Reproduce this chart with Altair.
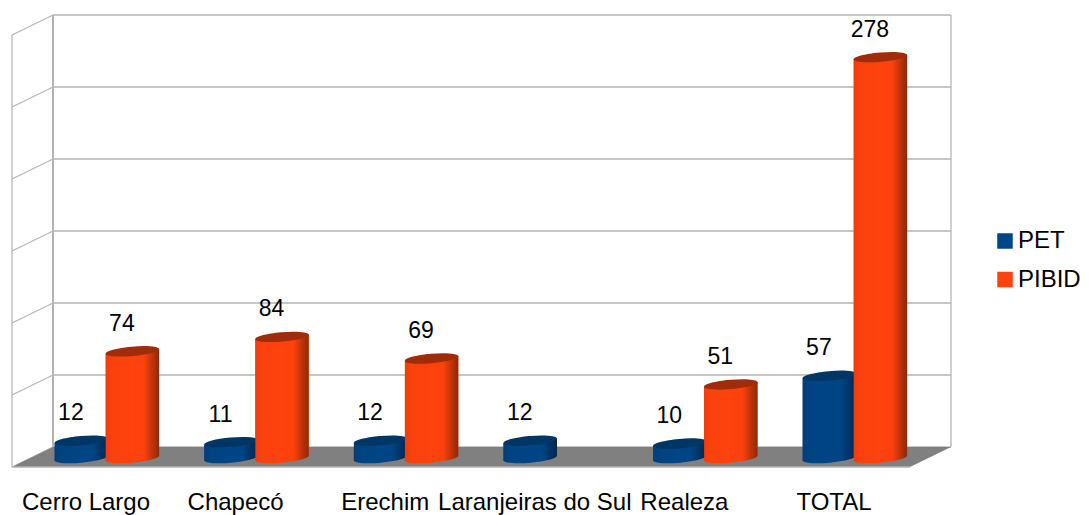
import altair as alt
import pandas as pd

categories = ["Cerro Largo", "Chapecó", "Erechim", "Laranjeiras do Sul", "Realeza", "TOTAL"]
pet = [12, 11, 12, 12, 10, 57]
pibid = [74, 84, 69, None, 51, 278]
grid_levels = [0, 1, 2, 3, 4, 5, 6]

W, H = 1073, 507
FONT = "Liberation Sans"
LINE = "#b3b3b3"
PXX, X0 = 149.6, 107.0
PXY, Y0 = 1.442, 458.0
ux = lambda p: (p - X0) / PXX
vy = lambda p: (Y0 - p) / PXY

xs = alt.Scale(domain=[ux(8), ux(8 + W)], range=[0, W], nice=False, zero=False)
ys = alt.Scale(domain=[vy(8 + H), vy(8)], range=[H, 0], nice=False, zero=False)
X = lambda f: alt.X(f, type="quantitative", scale=xs, axis=None)
Y = lambda f: alt.Y(f, type="quantitative", scale=ys, axis=None)


def segs(rows):
    return pd.DataFrame(
        [dict(x=ux(a), y=vy(b), x2=ux(c), y2=vy(d)) for a, b, c, d in rows]
    )


def rules(rows, width):
    return alt.Chart(segs(rows)).mark_rule(color=LINE, strokeWidth=width).encode(
        x=X("x"), y=Y("y"), x2="x2:Q", y2="y2:Q"
    )


grid_y = [447 - 72 * k for k in grid_levels]
back = rules([(53, g, 951, g) for g in grid_y], 1.3)
side = rules([(12, g + 20, 53, g) for g in grid_y], 1.2)
post = rules([(53, 15, 53, 447)], 2)
right_post = rules([(951, 15, 951, 447)], 1.3)
left_post = rules([(12, 35, 12, 467)], 1.2)
front = rules([(12, 467, 910, 467)], 1.6)

floor_df = pd.DataFrame(
    [
        dict(x=ux(12), y=vy(467), y2=vy(467)),
        dict(x=ux(53), y=vy(447), y2=vy(467)),
        dict(x=ux(910), y=vy(447), y2=vy(467)),
        dict(x=ux(951), y=vy(447), y2=vy(447)),
    ]
)
floor = alt.Chart(floor_df).mark_area(color="#808080", opacity=1).encode(
    x=X("x"), y=Y("y"), y2="y2:Q"
)

HALF = 26.7
TILT = 2.4
SLOT = {"PET": -25.6, "PIBID": 25.4}
rows, edges = [], []
for i, cat in enumerate(categories):
    for s, vals in (("PET", pet), ("PIBID", pibid)):
        v = vals[i]
        if v is None:
            continue
        cx = X0 + PXX * i + SLOT[s]
        rows.append(dict(series=s, cat=cat, v=v, cx=ux(cx), lx=ux(cx - 10.5), base=0))
        top = Y0 - PXY * v
        for sx in (-1, 1):
            edges.append(
                dict(
                    series=s,
                    id=f"{s}{i}",
                    x=ux(cx + sx * HALF),
                    y=vy(top - sx * TILT),
                    y2=vy(Y0 - sx * TILT),
                )
            )
bars = pd.DataFrame(rows)
edges = pd.DataFrame(edges)


def grad(stops):
    return alt.Gradient(
        gradient="linear",
        x1=0, x2=1, y1=0, y2=0,
        stops=[alt.GradientStop(offset=o, color=c) for o, c in stops],
    )


G = {
    "PET": grad([(0, "#003e78"), (0.12, "#00437f"), (0.5, "#004586"), (0.72, "#004483"), (1, "#00264b")]),
    "PIBID": grad([(0, "#ee3d0d"), (0.12, "#fa410e"), (0.5, "#ff420e"), (0.72, "#fb410e"), (1, "#8f2807")]),
}
TOP = {"PET": "#003666", "PIBID": "#a02c0a"}
SHAPE = "M-1,0.09 A1,0.175 -5 1 1 1,-0.09 A1,0.175 -5 1 1 -1,0.09 Z"
SIZE = 4 * HALF * HALF

legend_base = alt.Chart(edges).mark_area(opacity=1).encode(
    x=X("x"),
    y=Y("y"),
    y2="y2:Q",
    detail="id:N",
    color=alt.Color(
        "series:N",
        scale=alt.Scale(domain=["PET", "PIBID"], range=["#004586", "#ff420e"]),
        legend=alt.Legend(
            orient="none",
            legendX=985,
            legendY=221,
            title=None,
            symbolType="square",
            symbolSize=240,
            symbolStrokeWidth=0,
            labelFont=FONT,
            labelFontSize=24,
            labelColor="#000000",
            labelOffset=1,
            rowPadding=14.5,
            padding=0,
        ),
    ),
)

cyl = []
for s in ("PET", "PIBID"):
    b = bars[bars.series == s]
    e = edges[edges.series == s]
    cyl.append(
        alt.Chart(b).mark_point(
            shape=SHAPE, filled=True, fill=G[s], opacity=1, strokeWidth=0, size=SIZE
        ).encode(x=X("cx"), y=Y("base"))
    )
    cyl.append(
        alt.Chart(e).mark_area(fill=G[s], opacity=1).encode(
            x=X("x"), y=Y("y"), y2="y2:Q", detail="id:N"
        )
    )
    cyl.append(
        alt.Chart(b).mark_point(
            shape=SHAPE, filled=True, fill=TOP[s], opacity=1, strokeWidth=0, size=SIZE
        ).encode(x=X("cx"), y=Y("v"))
    )

values = alt.Chart(bars).mark_text(
    font=FONT, fontSize=23, color="#000000", dy=-27.5, align="center", baseline="middle"
).encode(x=X("lx"), y=Y("v"), text="v:Q")

cat_df = pd.DataFrame(
    [dict(cat=c, x=ux(X0 + PXX * i - 21), y=vy(502.5)) for i, c in enumerate(categories)]
)
cat_text = alt.Chart(cat_df).mark_text(
    font=FONT, fontSize=24, color="#000000", align="center", baseline="middle"
).encode(x=X("x"), y=Y("y"), text="cat:N")

chart = (
    alt.layer(
        back, side, right_post, left_post, floor, post, front, legend_base, *cyl, values, cat_text
    )
    .properties(width=W, height=H, padding=0, autosize=alt.AutoSizeParams(type="none"))
    .configure_view(stroke=None)
    .resolve_scale(color="shared")
)
chart.save("out.html", embed_options={"renderer": "svg", "actions": False})
